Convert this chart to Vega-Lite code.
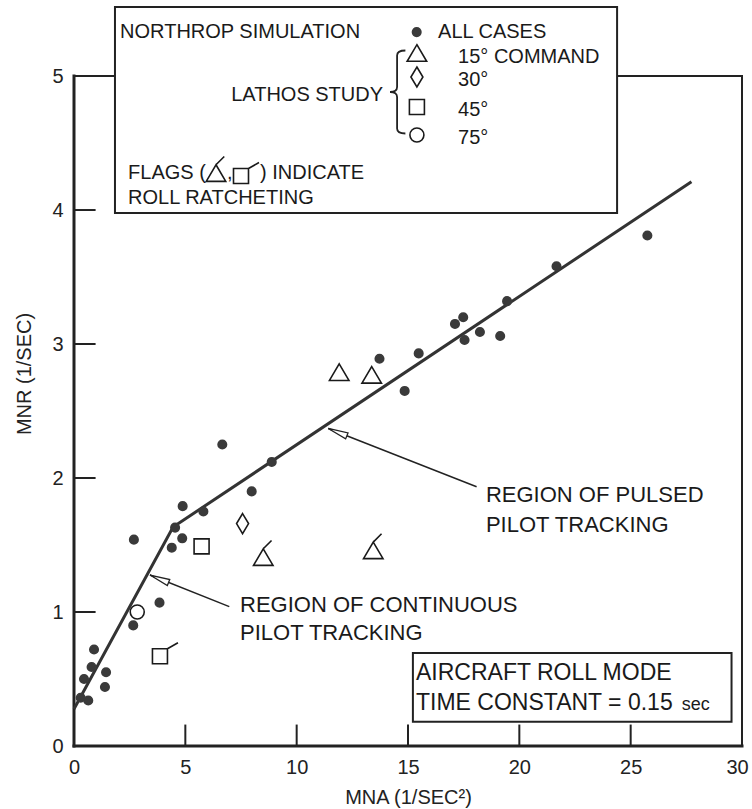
{
  "$schema": "https://vega.github.io/schema/vega-lite/v6.json",
  "width": 668,
  "height": 745,
  "autosize": {"type": "none"},
  "padding": {"left": 74, "top": 1, "right": 10, "bottom": 63},
  "background": "white",
  "config": {"view": {"stroke": null}, "font": "Liberation Sans"},
  "datasets": {
    "pts": [
      {"x": 0.30, "y": 0.36, "series": "Northrop"},
      {"x": 0.64, "y": 0.34, "series": "Northrop"},
      {"x": 0.45, "y": 0.50, "series": "Northrop"},
      {"x": 0.79, "y": 0.59, "series": "Northrop"},
      {"x": 0.90, "y": 0.72, "series": "Northrop"},
      {"x": 1.44, "y": 0.55, "series": "Northrop"},
      {"x": 1.39, "y": 0.44, "series": "Northrop"},
      {"x": 2.66, "y": 0.90, "series": "Northrop"},
      {"x": 3.84, "y": 1.07, "series": "Northrop"},
      {"x": 2.69, "y": 1.54, "series": "Northrop"},
      {"x": 4.39, "y": 1.48, "series": "Northrop"},
      {"x": 4.86, "y": 1.55, "series": "Northrop"},
      {"x": 4.54, "y": 1.63, "series": "Northrop"},
      {"x": 4.88, "y": 1.79, "series": "Northrop"},
      {"x": 5.81, "y": 1.75, "series": "Northrop"},
      {"x": 7.98, "y": 1.90, "series": "Northrop"},
      {"x": 6.66, "y": 2.25, "series": "Northrop"},
      {"x": 8.88, "y": 2.12, "series": "Northrop"},
      {"x": 13.72, "y": 2.89, "series": "Northrop"},
      {"x": 14.85, "y": 2.65, "series": "Northrop"},
      {"x": 15.48, "y": 2.93, "series": "Northrop"},
      {"x": 17.11, "y": 3.15, "series": "Northrop"},
      {"x": 17.48, "y": 3.20, "series": "Northrop"},
      {"x": 17.54, "y": 3.03, "series": "Northrop"},
      {"x": 18.23, "y": 3.09, "series": "Northrop"},
      {"x": 19.14, "y": 3.06, "series": "Northrop"},
      {"x": 19.45, "y": 3.32, "series": "Northrop"},
      {"x": 21.67, "y": 3.58, "series": "Northrop"},
      {"x": 25.75, "y": 3.81, "series": "Northrop"},
      {"x": 11.91, "y": 2.79, "series": "Lathos 15°"},
      {"x": 13.37, "y": 2.77, "series": "Lathos 15°"},
      {"x": 8.50, "y": 1.41, "series": "Lathos 15° (ratcheting)"},
      {"x": 13.44, "y": 1.46, "series": "Lathos 15° (ratcheting)"},
      {"x": 7.57, "y": 1.66, "series": "Lathos 30°"},
      {"x": 5.73, "y": 1.49, "series": "Lathos 45°"},
      {"x": 3.86, "y": 0.67, "series": "Lathos 45° (ratcheting)"},
      {"x": 2.84, "y": 1.00, "series": "Lathos 75°"}
    ],
    "fit": [
      {"x": 0, "y": 0.276},
      {"x": 4.45, "y": 1.634},
      {"x": 27.73, "y": 4.211}
    ],
    "frame": [
      {"x": 0, "y": 0, "x2": 0, "y2": 5, "part": "axis"},
      {"x": 0, "y": 0, "x2": 30, "y2": 0, "part": "axis"},
      {"x": 0, "y": 5, "x2": 30, "y2": 5, "part": "frame"},
      {"x": 30, "y": 0, "x2": 30, "y2": 5, "part": "frame"}
    ],
    "tickmarks": [
      {"x": 5, "y": 0, "x2": 5, "y2": 0.16},
      {"x": 10, "y": 0, "x2": 10, "y2": 0.16},
      {"x": 15, "y": 0, "x2": 15, "y2": 0.16},
      {"x": 20, "y": 0, "x2": 20, "y2": 0.16},
      {"x": 25, "y": 0, "x2": 25, "y2": 0.16},
      {"x": 0, "y": 1, "x2": 0.97, "y2": 1},
      {"x": 0, "y": 2, "x2": 0.97, "y2": 2},
      {"x": 0, "y": 3, "x2": 0.97, "y2": 3},
      {"x": 0, "y": 4, "x2": 0.97, "y2": 4}
    ],
    "boxes": [
      {"x": 1.84, "x2": 24.39, "y": 3.978, "y2": 5.515, "box": "key"},
      {"x": 15.22, "x2": 29.53, "y": 0.181, "y2": 0.694, "box": "roll mode"}
    ],
    "arrows": [
      {"x": 18.08, "y": 1.935, "x2": 11.42, "y2": 2.37, "label": "pulsed"},
      {"x": 6.975, "y": 1.04, "x2": 3.413, "y2": 1.276, "label": "continuous"}
    ],
    "brace": [
      {"x": 14.51, "y": 4.881, "label": "Lathos study"}
    ],
    "keys": [
      {"x": 15.39, "y": 5.328, "series": "Northrop"},
      {"x": 15.40, "y": 5.172, "series": "Lathos 15°"},
      {"x": 15.40, "y": 4.993, "series": "Lathos 30°"},
      {"x": 15.40, "y": 4.769, "series": "Lathos 45°"},
      {"x": 15.40, "y": 4.560, "series": "Lathos 75°"},
      {"x": 6.377, "y": 4.276, "series": "Lathos 15° (ratcheting)"},
      {"x": 7.50, "y": 4.254, "series": "Lathos 45° (ratcheting)"}
    ],
    "notes": [
      {"x": 2.07, "y": 5.328, "text": "NORTHROP SIMULATION", "kind": "legend"},
      {"x": 16.35, "y": 5.328, "text": "ALL CASES", "kind": "legend"},
      {"x": 17.25, "y": 5.142, "text": "15° COMMAND", "kind": "legend"},
      {"x": 17.25, "y": 4.97, "text": "30°", "kind": "legend"},
      {"x": 17.25, "y": 4.746, "text": "45°", "kind": "legend"},
      {"x": 17.25, "y": 4.537, "text": "75°", "kind": "legend"},
      {"x": 2.43, "y": 4.276, "text": "FLAGS (", "kind": "legend"},
      {"x": 6.871, "y": 4.276, "text": ",", "kind": "legend"},
      {"x": 8.353, "y": 4.276, "text": ") INDICATE", "kind": "legend"},
      {"x": 2.43, "y": 4.09, "text": "ROLL RATCHETING", "kind": "legend"},
      {"x": 13.88, "y": 4.858, "text": "LATHOS STUDY", "kind": "legendRight"},
      {"x": 18.50, "y": 1.873, "text": "REGION OF PULSED", "kind": "region"},
      {"x": 18.50, "y": 1.649, "text": "PILOT TRACKING", "kind": "region"},
      {"x": 7.455, "y": 1.052, "text": "REGION OF CONTINUOUS", "kind": "region"},
      {"x": 7.455, "y": 0.843, "text": "PILOT TRACKING", "kind": "region"},
      {"x": 15.36, "y": 0.493, "text": "AIRCRAFT ROLL MODE", "kind": "inset"},
      {"x": 15.36, "y": 0.269, "text": "TIME CONSTANT = 0.15", "kind": "inset"},
      {"x": 27.29, "y": 0.269, "text": "sec", "kind": "insetSmall"}
    ]
  },
  "encoding": {
    "x": {
      "field": "x", "type": "quantitative",
      "scale": {"domain": [0, 30], "nice": false, "zero": false},
      "axis": {
        "title": "MNA (1/SEC²)", "values": [0, 5, 10, 15, 20, 25, 30], "format": "d",
        "domain": false, "grid": false, "ticks": false,
        "labelFontSize": 20, "labelColor": "#222", "labelPadding": 11, "labelFlush": false, "labelOverlap": false,
        "labelOffset": {"condition": {"test": "datum.value === 30", "value": -5}, "value": 0},
        "titleFontSize": 20, "titleFontWeight": "normal", "titleColor": "#222", "titlePadding": 10
      }
    },
    "y": {
      "field": "y", "type": "quantitative",
      "scale": {"domain": [0, 5.56], "nice": false, "zero": false},
      "axis": {
        "title": "MNR (1/SEC)", "values": [0, 1, 2, 3, 4, 5], "format": "d",
        "domain": false, "grid": false, "ticks": false,
        "labelFontSize": 20, "labelColor": "#222", "labelPadding": 11, "labelFlush": false, "labelOverlap": false,
        "titleFontSize": 20, "titleFontWeight": "normal", "titleColor": "#222", "titlePadding": 17
      }
    }
  },
  "layer": [
    {
      "data": {"name": "frame"},
      "mark": {"type": "rule", "color": "#222", "strokeCap": "square"},
      "encoding": {
        "x2": {"field": "x2"}, "y2": {"field": "y2"},
        "strokeWidth": {"field": "part", "type": "nominal", "scale": {"type": "ordinal", "domain": ["axis", "frame"], "range": [3, 2]}, "legend": null}
      }
    },
    {
      "data": {"name": "tickmarks"},
      "mark": {"type": "rule", "color": "#222", "strokeWidth": 2},
      "encoding": {"x2": {"field": "x2"}, "y2": {"field": "y2"}}
    },
    {
      "data": {"name": "fit"},
      "mark": {"type": "line", "color": "#333", "strokeWidth": 3},
      "encoding": {}
    },
    {
      "data": {"name": "arrows"},
      "mark": {"type": "rule", "color": "#222", "strokeWidth": 1.5},
      "encoding": {"x2": {"field": "x2"}, "y2": {"field": "y2"}}
    },
    {
      "data": {"name": "arrows"},
      "mark": {"type": "point", "shape": "M0,0L0.32,2L-0.32,2Z", "size": 400, "angle": 292, "fill": "white", "stroke": "#222", "strokeWidth": 1.3, "opacity": 1, "filled": false},
      "encoding": {"x": {"field": "x2", "type": "quantitative"}, "y": {"field": "y2", "type": "quantitative"}}
    },
    {
      "data": {"name": "pts"},
      "mark": {"type": "point", "filled": true, "opacity": 1, "strokeWidth": 1.6},
      "encoding": {
        "shape": {"field": "series", "type": "nominal", "legend": null, "scale": {"domain": ["Northrop", "Lathos 15°", "Lathos 15° (ratcheting)", "Lathos 30°", "Lathos 45°", "Lathos 45° (ratcheting)", "Lathos 75°"], "range": ["circle", "M0,-0.85L1,0.85L-1,0.85Z", "M0,-0.85L1,0.85L-1,0.85Z M0,-0.85L0.85,-1.7", "M0,-1L0.6,0L0,1L-0.6,0Z", "M-1,-1L1,-1L1,1L-1,1Z", "M-1,-1L1,-1L1,1L-1,1Z M1,-1L2.4,-1.8", "circle"]}},
        "size": {"field": "series", "type": "nominal", "legend": null, "scale": {"type": "ordinal", "domain": ["Northrop", "Lathos 15°", "Lathos 15° (ratcheting)", "Lathos 30°", "Lathos 45°", "Lathos 45° (ratcheting)", "Lathos 75°"], "range": [72, 380, 380, 400, 225, 225, 196]}},
        "fill": {"field": "series", "type": "nominal", "legend": null, "scale": {"domain": ["Northrop", "Lathos 15°", "Lathos 15° (ratcheting)", "Lathos 30°", "Lathos 45°", "Lathos 45° (ratcheting)", "Lathos 75°"], "range": ["#3a3a3a", "white", "white", "white", "white", "white", "white"]}},
        "stroke": {"field": "series", "type": "nominal", "legend": null, "scale": {"domain": ["Northrop", "Lathos 15°", "Lathos 15° (ratcheting)", "Lathos 30°", "Lathos 45°", "Lathos 45° (ratcheting)", "Lathos 75°"], "range": ["#3a3a3a", "#1a1a1a", "#1a1a1a", "#1a1a1a", "#1a1a1a", "#1a1a1a", "#1a1a1a"]}}
      }
    },
    {
      "data": {"name": "boxes"},
      "mark": {"type": "rect", "fill": "white", "stroke": "#222", "strokeWidth": 2},
      "encoding": {"x2": {"field": "x2"}, "y2": {"field": "y2"}}
    },
    {
      "data": {"name": "keys"},
      "mark": {"type": "point", "filled": true, "opacity": 1, "strokeWidth": 1.6},
      "encoding": {
        "shape": {"field": "series", "type": "nominal", "legend": null, "scale": {"domain": ["Northrop", "Lathos 15°", "Lathos 15° (ratcheting)", "Lathos 30°", "Lathos 45°", "Lathos 45° (ratcheting)", "Lathos 75°"], "range": ["circle", "M0,-0.85L1,0.85L-1,0.85Z", "M0,-0.85L1,0.85L-1,0.85Z M0,-0.85L0.85,-1.7", "M0,-1L0.6,0L0,1L-0.6,0Z", "M-1,-1L1,-1L1,1L-1,1Z", "M-1,-1L1,-1L1,1L-1,1Z M1,-1L2.4,-1.8", "circle"]}},
        "size": {"field": "series", "type": "nominal", "legend": null, "scale": {"type": "ordinal", "domain": ["Northrop", "Lathos 15°", "Lathos 15° (ratcheting)", "Lathos 30°", "Lathos 45°", "Lathos 45° (ratcheting)", "Lathos 75°"], "range": [72, 380, 380, 400, 225, 225, 196]}},
        "fill": {"field": "series", "type": "nominal", "legend": null, "scale": {"domain": ["Northrop", "Lathos 15°", "Lathos 15° (ratcheting)", "Lathos 30°", "Lathos 45°", "Lathos 45° (ratcheting)", "Lathos 75°"], "range": ["#3a3a3a", "white", "white", "white", "white", "white", "white"]}},
        "stroke": {"field": "series", "type": "nominal", "legend": null, "scale": {"domain": ["Northrop", "Lathos 15°", "Lathos 15° (ratcheting)", "Lathos 30°", "Lathos 45°", "Lathos 45° (ratcheting)", "Lathos 75°"], "range": ["#3a3a3a", "#1a1a1a", "#1a1a1a", "#1a1a1a", "#1a1a1a", "#1a1a1a", "#1a1a1a"]}}
      }
    },
    {
      "data": {"name": "brace"},
      "mark": {"type": "point", "shape": "M0.2,-1Q0,-1 0,-0.88L0,-0.12Q0,0 -0.17,0Q0,0 0,0.12L0,0.88Q0,1 0.2,1", "size": 6889, "filled": false, "stroke": "#222", "strokeWidth": 1.8, "opacity": 1}
    },
    {
      "data": {"name": "notes"},
      "transform": [{"filter": "datum.kind === 'legend'"}],
      "mark": {"type": "text", "align": "left", "baseline": "middle", "fontSize": 20, "color": "#1a1a1a"},
      "encoding": {"text": {"field": "text"}}
    },
    {
      "data": {"name": "notes"},
      "transform": [{"filter": "datum.kind === 'legendRight'"}],
      "mark": {"type": "text", "align": "right", "baseline": "middle", "fontSize": 20, "color": "#1a1a1a"},
      "encoding": {"text": {"field": "text"}}
    },
    {
      "data": {"name": "notes"},
      "transform": [{"filter": "datum.kind === 'region'"}],
      "mark": {"type": "text", "align": "left", "baseline": "middle", "fontSize": 22, "color": "#1a1a1a"},
      "encoding": {"text": {"field": "text"}}
    },
    {
      "data": {"name": "notes"},
      "transform": [{"filter": "datum.kind === 'inset'"}],
      "mark": {"type": "text", "align": "left", "baseline": "alphabetic", "fontSize": 23, "color": "#1a1a1a"},
      "encoding": {"text": {"field": "text"}}
    },
    {
      "data": {"name": "notes"},
      "transform": [{"filter": "datum.kind === 'insetSmall'"}],
      "mark": {"type": "text", "align": "left", "baseline": "alphabetic", "fontSize": 18, "color": "#1a1a1a"},
      "encoding": {"text": {"field": "text"}}
    }
  ]
}
